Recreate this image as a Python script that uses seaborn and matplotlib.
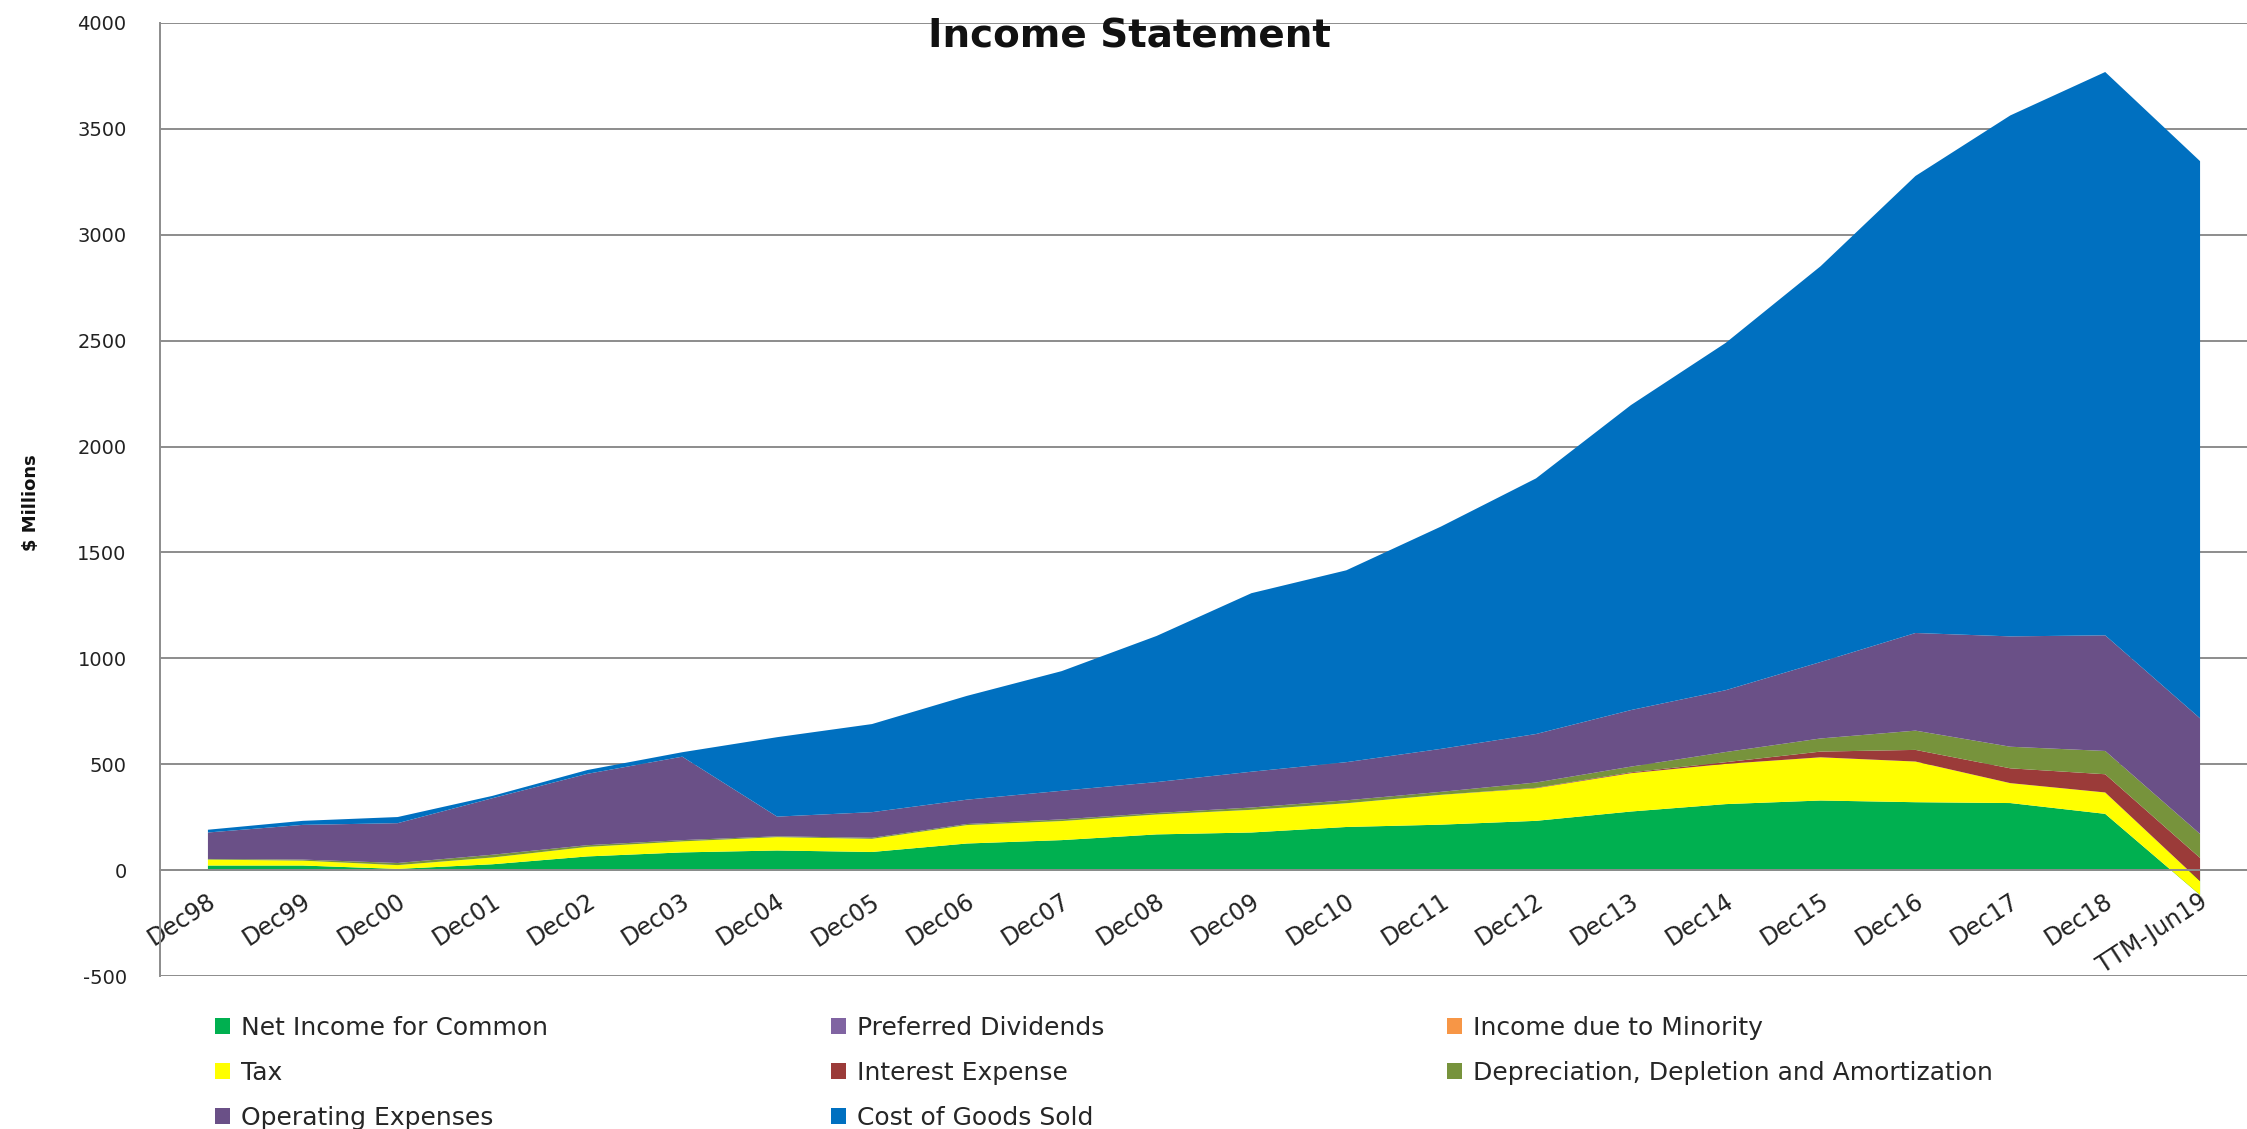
import matplotlib
matplotlib.use("Agg")
import numpy as np
import pandas as pd
import matplotlib.pyplot as plt
import matplotlib.transforms as mtransforms
import seaborn as sns
from matplotlib.patches import Patch

# Reporting periods
periods = ["Dec98", "Dec99", "Dec00", "Dec01", "Dec02", "Dec03", "Dec04", "Dec05",
           "Dec06", "Dec07", "Dec08", "Dec09", "Dec10", "Dec11", "Dec12", "Dec13",
           "Dec14", "Dec15", "Dec16", "Dec17", "Dec18", "TTM-Jun19"]

# Income statement components, $ millions
net_income_common = [24, 24, 8, 30, 67, 86, 95, 88, 128, 144, 171, 180, 206, 217,
                     235, 279, 314, 331, 323, 319, 268, -115]
preferred_dividends = [0, 0, 0, 0, 0, 0, 0, 0, 0, 0, 0, 0, 0, 0, 0, 0, 0, 0, 0, 0, 0, 0]
income_minority = [0, 0, 0, 0, 0, 0, 0, 0, 0, 0, 0, 0, 0, 0, 0, 0, 0, 0, 0, 0, 0, 0]
tax = [28, 23, 18, 32, 45, 52, 63, 62, 87, 90, 94, 107, 112, 141, 154, 181, 190,
       204, 192, 94, 101, 65]
interest_expense = [0, 0, 0, 0, 0, 0, 0, 0, 0, 0, 0, 0, 0, 0, 2, 4, 8, 27, 55, 70,
                    86, 110]
dda = [3, 5, 10, 13, 8, 6, 4, 5, 5, 8, 7, 11, 14, 14, 25, 27, 48, 62, 91, 102, 110,
       113]
operating_expenses = [125, 164, 188, 267, 337, 394, 93, 121, 115, 135, 146, 169, 180,
                      203, 229, 267, 292, 361, 461, 521, 546, 546]
cost_of_goods_sold = [13, 19, 29, 11, 18, 21, 375, 416, 490, 565, 690, 843, 906, 1050,
                      1207, 1440, 1640, 1869, 2158, 2460, 2660, 2631]

series_names = ["Net Income for Common", "Preferred Dividends", "Income due to Minority",
                "Tax", "Interest Expense", "Depreciation, Depletion and Amortization",
                "Operating Expenses", "Cost of Goods Sold"]
series_colors = ["#00B050", "#8064A2", "#F79646", "#FFFF00", "#9B3B39", "#77933C",
                 "#6A5087", "#0070C0"]

df = pd.DataFrame({
    "Net Income for Common": net_income_common,
    "Preferred Dividends": preferred_dividends,
    "Income due to Minority": income_minority,
    "Tax": tax,
    "Interest Expense": interest_expense,
    "Depreciation, Depletion and Amortization": dda,
    "Operating Expenses": operating_expenses,
    "Cost of Goods Sold": cost_of_goods_sold,
}, index=periods)

sns.set_theme(style="white")
plt.rcParams["font.family"] = ["DejaVu Sans"]
plt.rcParams["axes.unicode_minus"] = False
palette = sns.color_palette(series_colors)

W, H = 2247, 1129
fig = plt.figure(figsize=(W / 100, H / 100), dpi=100)
ax = fig.add_axes([160 / W, 1 - 976 / H, (W - 160) / W, (976 - 23) / H])

x = np.arange(len(periods))
ax.stackplot(x, *[df[c].values for c in series_names], colors=palette,
             linewidth=0, labels=series_names, zorder=2)

ax.set_xlim(-0.5, len(periods) - 0.5)
ax.set_ylim(-500, 4000)
ax.set_yticks(np.arange(-500, 4001, 500))
ax.yaxis.grid(True, color="#8C8C8C", linewidth=1.4, zorder=0)
ax.xaxis.grid(False)
ax.set_axisbelow(True)

for side in ("top", "right"):
    ax.spines[side].set_visible(False)
ax.spines["left"].set_color("#8C8C8C")
ax.spines["left"].set_linewidth(1.4)
ax.spines["bottom"].set_position(("data", 0))
ax.spines["bottom"].set_color("#8C8C8C")
ax.spines["bottom"].set_linewidth(1.4)

ax.set_xticks(x)
ax.set_xticklabels(periods, rotation=33, ha="right", va="center",
                   rotation_mode="anchor", fontsize=17, color="#222222")
ax.tick_params(axis="x", length=0, pad=21)
ax.tick_params(axis="y", length=0, pad=24, labelsize=14, labelcolor="#222222")

# nudge the slanted category labels slightly to the right of their ticks
shift = mtransforms.ScaledTranslation(6 / 100, 0, fig.dpi_scale_trans)
for lbl in ax.get_xticklabels():
    lbl.set_transform(lbl.get_transform() + shift)

fig.text(1129 / W, 1 - 37 / H, "Income Statement", ha="center", va="center",
         fontsize=28, fontweight="bold", color="#111111")
fig.text(31 / W, 1 - 503 / H, "$ Millions", ha="center", va="center",
         rotation=90, fontsize=13, fontweight="bold", color="#111111")

# Legend laid out in three columns, filled row by row
columns = [
    (215, ["Net Income for Common", "Tax", "Operating Expenses"]),
    (831, ["Preferred Dividends", "Interest Expense", "Cost of Goods Sold"]),
    (1447, ["Income due to Minority", "Depreciation, Depletion and Amortization"]),
]
color_of = dict(zip(series_names, series_colors))
for xpos, names in columns:
    handles = [Patch(facecolor=color_of[n], edgecolor="none", label=n) for n in names]
    fig.legend(handles=handles, loc="upper left",
               bbox_to_anchor=(xpos / W, 1 - 1016 / H),
               frameon=False, fontsize=18, handlelength=0.6,
               handleheight=0.58, handletextpad=0.45, labelspacing=0.84,
               borderpad=0, borderaxespad=0)

fig.savefig("out.png", dpi=100, facecolor="white")
